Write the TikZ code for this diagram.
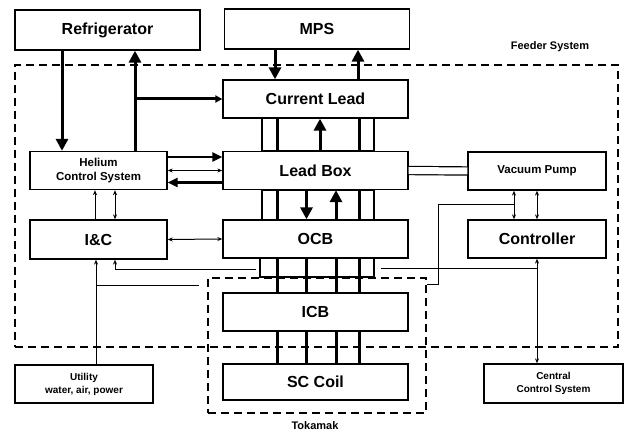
\documentclass[tikz,border=0pt]{standalone}
\usepackage{fontspec}
\setmainfont{Liberation Sans}
\usetikzlibrary{positioning, arrows.meta, calc}

\begin{document}
\begin{tikzpicture}[x=1pt, y=-1pt,
  box/.style={draw, line width=1.3pt, fill=white, inner sep=0pt, font=\fontsize{16}{18}\selectfont\bfseries},
  smallbox/.style={box, align=center, font=\fontsize{11.5}{14}\selectfont\bfseries},
  tinybox/.style={box, align=center, font=\fontsize{10}{13}\selectfont\bfseries},
  region/.style={draw, line width=1.8pt, dash pattern=on 8pt off 5pt, inner sep=0pt},
  tag/.style={font=\fontsize{11}{13}\selectfont\bfseries},
  fat/.style={line width=3pt},
  fatarrow/.style={fat, -{Triangle[length=12pt,width=12pt]}},
  medarrow/.style={line width=2.5pt, -{Triangle[length=10pt,width=9pt]}},
  thin/.style={line width=1pt},
  thinarrow/.style={thin, -{Stealth[length=5pt,width=4pt]}},
  thinboth/.style={thin, {Stealth[length=5pt,width=4pt]}-{Stealth[length=5pt,width=4pt]}}]
\useasboundingbox (0,0) rectangle (625,435);

% outer regions
\node[region, minimum width=603pt, minimum height=282pt] (feeder) at (316.5,206) {};
\node[region, minimum width=218pt, minimum height=135pt] (tokamak) at (317,345.5) {};
\node[tag] at (550,47) {Feeder System};
\node[tag] at (315,426) {Tokamak};

% blocks
\node[box, minimum width=185pt, minimum height=40pt] (refrig) at (107.5,30) {Refrigerator};
\node[box, minimum width=185pt, minimum height=40pt] (mps) at (317,29) {MPS};
\node[box, minimum width=185pt, minimum height=38pt] (curlead) at (315.5,99) {Current Lead};
\node[box, minimum width=185pt, minimum height=38pt] (leadbox) at (315.5,170.5) {Lead Box};
\node[smallbox, minimum width=137pt, minimum height=38pt] (helium) at (98.5,170.5) {Helium\\Control System};
\node[smallbox, minimum width=138pt, minimum height=38pt] (vacpump) at (537,171) {Vacuum Pump};
\node[box, minimum width=137pt, minimum height=39pt] (ic) at (98.5,239.5) {I\&C};
\node[box, minimum width=185pt, minimum height=38pt] (ocb) at (315.5,239) {OCB};
\node[box, minimum width=138pt, minimum height=38pt] (controller) at (537,239) {Controller};
\node[box, minimum width=114pt, minimum height=19pt] (junction) at (317,267.5) {};
\node[box, minimum width=185pt, minimum height=38pt] (icb) at (315.5,312) {ICB};
\node[box, minimum width=185pt, minimum height=36pt] (sccoil) at (315.5,382) {SC Coil};
\node[tinybox, minimum width=138pt, minimum height=38pt] (utility) at (84,384) {Utility\\water, air, power};
\node[tinybox, minimum width=139pt, minimum height=39pt] (central) at (553.5,383.5) {Central\\Control System};

% lead pipes
\draw[line width=1.3pt] ([xshift=-53.5pt]curlead.south) rectangle ([xshift=58.5pt]leadbox.north);
\draw[line width=1.3pt] ([xshift=-53.5pt]leadbox.south) rectangle ([xshift=58.5pt]ocb.north);
\foreach \dx in {-38.5,43.5} {
  \draw[fat] ([xshift=\dx pt]curlead.south) -- ([xshift=\dx pt]leadbox.north);
  \draw[fat] ([xshift=\dx pt]leadbox.south) -- ([xshift=\dx pt]ocb.north);
}
\foreach \dx in {-38.5,-9.5,20.5,43.5} {
  \draw[fat] ([xshift=\dx pt]ocb.south) -- ([xshift=\dx pt]icb.north);
  \draw[fat] ([xshift=\dx pt]icb.south) -- ([xshift=\dx pt]sccoil.north);
}
\draw[fatarrow] ([xshift=4.5pt]leadbox.north) -- ([xshift=4.5pt]curlead.south);
\draw[fatarrow] ([xshift=-9pt]leadbox.south) -- ([xshift=-9pt]ocb.north);
\draw[fatarrow] ([xshift=20.5pt]ocb.north) -- ([xshift=20.5pt]leadbox.south);

% refrigerator and MPS
\draw[fatarrow] ([xshift=-36.5pt]helium.north |- refrig.south) -- ([xshift=-36.5pt]helium.north);
\draw[fatarrow] ([xshift=36.5pt]helium.north) -- ([xshift=36.5pt]helium.north |- refrig.south);
\draw[fat, -{Triangle[length=7pt,width=7pt]}] ([xshift=36.5pt]helium.north |- curlead.west) -- (curlead.west);
\draw[fatarrow] ([xshift=-40.5pt]curlead.north |- mps.south) -- ([xshift=-40.5pt]curlead.north);
\draw[fatarrow] ([xshift=42.5pt]curlead.north) -- ([xshift=42.5pt]curlead.north |- mps.south);

% helium lines
\draw[medarrow] ([yshift=13.5pt]helium.east) -- ([yshift=13.5pt]leadbox.west);
\draw[thinboth] (helium.east) -- (leadbox.west);
\draw[medarrow] ([yshift=-12pt]leadbox.west) -- ([yshift=-12pt]helium.east);
\draw[line width=1.2pt, double, double distance=7pt] (leadbox.east) -- (vacpump.west);

% signals
\draw[thinarrow] ([xshift=-3.5pt]ic.north) -- ([xshift=-3.5pt]helium.south);
\draw[thinboth] ([xshift=16.5pt]ic.north) -- ([xshift=16.5pt]helium.south);
\draw[thinboth] (ic.east) -- (ocb.west);
\draw[thinarrow] ([xshift=-3pt,yshift=-2.5pt]junction.west) -| ([xshift=16.5pt]ic.south);
\coordinate (utiltap) at (96,286);
\draw[thinarrow] ([xshift=-2.5pt]ic.south |- utility.north) -- ([xshift=-2.5pt]ic.south);
\draw[thin] (utiltap) -- ([xshift=-8pt]tokamak.west |- utiltap);
\draw[thinboth] ([xshift=-23pt]vacpump.south) -- ([xshift=-23pt]controller.north);
\draw[thinboth] (vacpump.south) -- (controller.north);
\coordinate (vactap) at (514,205);
\draw[thin] (vactap) -| ([xshift=12pt]tokamak.east |- 0,285) -- (tokamak.east |- 0,285);
\coordinate (ctrltap) at (537,269);
\draw[thin] ([xshift=6pt,yshift=-1.5pt]junction.east) -- (ctrltap);
\draw[thinboth] (controller.south) -- (controller.south |- central.north);
\end{tikzpicture}
\end{document}
